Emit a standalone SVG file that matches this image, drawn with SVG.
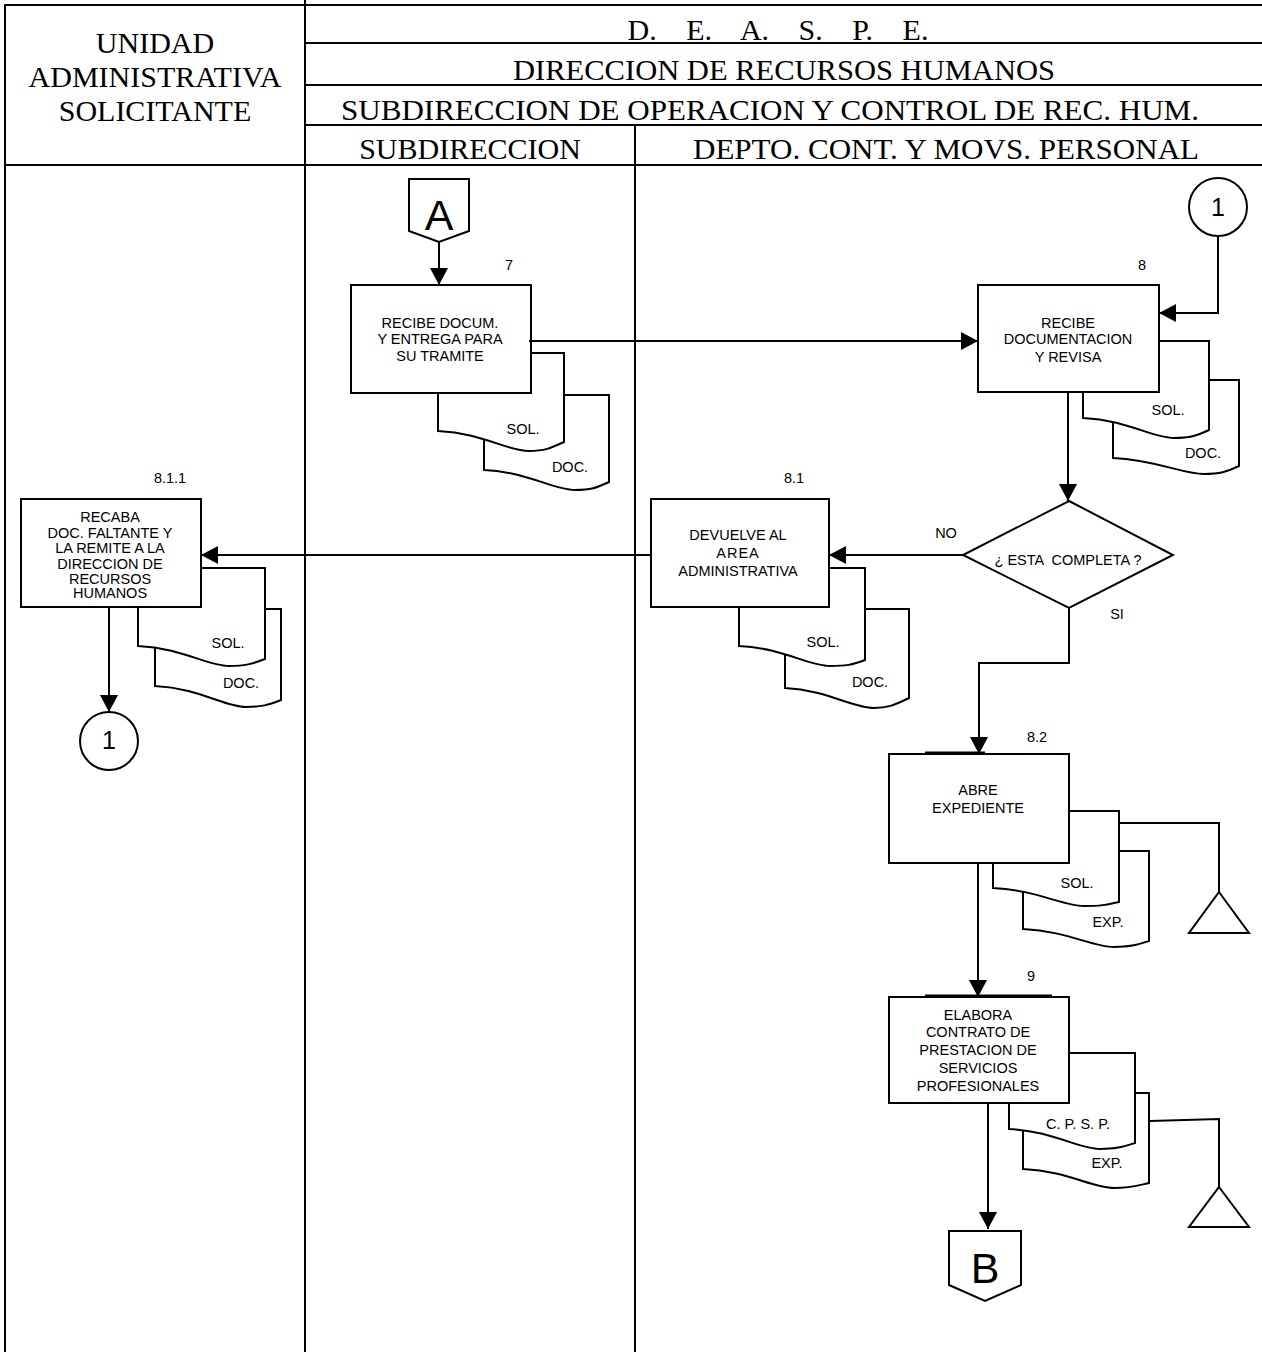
<svg xmlns="http://www.w3.org/2000/svg" width="1262" height="1361" viewBox="0 0 1262 1361">
<style>
.ln{stroke:#000;stroke-width:2;fill:none}
.bx{stroke:#000;stroke-width:2;fill:#fff}
.hd{font-family:"Liberation Serif","Times New Roman",serif;font-size:30px;fill:#000;text-anchor:middle}
.t{font-family:"Liberation Sans",Arial,sans-serif;font-size:14.5px;fill:#000;text-anchor:middle}
.big{font-family:"Liberation Sans",Arial,sans-serif;font-size:43px;fill:#000;text-anchor:middle}
.one{font-family:"Liberation Sans",Arial,sans-serif;font-size:25px;fill:#000;text-anchor:middle}
</style>
<defs>
<marker id="ah" viewBox="0 0 17 18" refX="17" refY="9" markerWidth="17" markerHeight="18" markerUnits="userSpaceOnUse" orient="auto">
<path d="M0,0 L17,9 L0,18 Z" fill="#000"/>
</marker>
</defs>
<rect width="1262" height="1361" fill="#fff"/>
<g id="frame">
<path class="ln" d="M5,1352 V5 H1262 M305,0 V1352 M635,125 V1352 M305,43 H1262 M305,85 H1262 M305,125 H1262 M5,165 H1262"/>
<text class="hd" x="155" y="53">UNIDAD</text>
<text class="hd" x="155" y="87">ADMINISTRATIVA</text>
<text class="hd" x="155" y="121">SOLICITANTE</text>
<text class="hd" x="778" y="40" style="word-spacing:22px">D. E. A. S. P. E.</text>
<text class="hd" x="784" y="80" textLength="542" lengthAdjust="spacingAndGlyphs">DIRECCION DE RECURSOS HUMANOS</text>
<text class="hd" x="770" y="120" textLength="858" lengthAdjust="spacingAndGlyphs">SUBDIRECCION DE OPERACION Y CONTROL DE REC. HUM.</text>
<text class="hd" x="470" y="159">SUBDIRECCION</text>
<text class="hd" x="946" y="159" textLength="506" lengthAdjust="spacingAndGlyphs">DEPTO. CONT. Y MOVS. PERSONAL</text>
</g>
<g id="conA">
<path class="bx" d="M409,179 H469 V231 L439,242 L409,231 Z"/>
<text class="big" x="439" y="230">A</text>
</g>
<g id="step7">
<path class="bx" d="M484,395 H609 V482 C596,488 591,490 575,490 C553,490 528,472 484,470 Z"/>
<path class="bx" d="M438,353 H564 V442 C551,448 545,451 529,451 C507,451 482,433 438,431 Z"/>
<rect class="bx" x="351" y="285" width="180" height="108"/>
<text class="t" x="509" y="270">7</text>
<text class="t" x="440" y="328">RECIBE DOCUM.</text>
<text class="t" x="440" y="344">Y ENTREGA PARA</text>
<text class="t" x="440" y="361">SU TRAMITE</text>
<text class="t" x="523" y="434">SOL.</text>
<text class="t" x="570" y="472">DOC.</text>
</g>
<g id="con1top">
<circle class="bx" cx="1218" cy="207" r="29"/>
<text class="one" x="1218" y="216">1</text>
</g>
<g id="step8">
<path class="bx" d="M1113,380 H1239 V466 C1226,472 1220,474 1204,474 C1182,474 1157,460 1113,458 Z"/>
<path class="bx" d="M1083,341 H1209 V430 C1196,436 1190,438 1174,438 C1152,438 1127,420 1083,418 Z"/>
<rect class="bx" x="978" y="285" width="181" height="107"/>
<text class="t" x="1142" y="270">8</text>
<text class="t" x="1068" y="328">RECIBE</text>
<text class="t" x="1068" y="344">DOCUMENTACION</text>
<text class="t" x="1068" y="362">Y REVISA</text>
<text class="t" x="1168" y="415">SOL.</text>
<text class="t" x="1203" y="458">DOC.</text>
</g>
<g id="decision">
<path class="bx" d="M1069,501 L1173,555 L1069,608 L963,555 Z"/>
<text class="t" x="1068" y="565" style="white-space:pre">¿ ESTA  COMPLETA ?</text>
<text class="t" x="946" y="538">NO</text>
<text class="t" x="1117" y="619">SI</text>
</g>
<g id="step8_1">
<path class="bx" d="M785,609 H909 V698 C896,704 890,708 874,708 C852,708 827,690 785,688 Z"/>
<path class="bx" d="M739,568 H865 V660 C852,665 846,666 830,666 C808,666 783,648 739,646 Z"/>
<rect class="bx" x="651" y="499" width="178" height="108"/>
<text class="t" x="794" y="483">8.1</text>
<text class="t" x="738" y="540">DEVUELVE AL</text>
<text class="t" x="738" y="558" style="letter-spacing:1px">AREA</text>
<text class="t" x="738" y="576">ADMINISTRATIVA</text>
<text class="t" x="823" y="647">SOL.</text>
<text class="t" x="870" y="687">DOC.</text>
</g>
<g id="step8_1_1">
<path class="bx" d="M155,609 H281 V700 C268,705 262,707 246,707 C224,707 199,688 155,686 Z"/>
<path class="bx" d="M138,568 H265 V659 C252,664 245,666 229,666 C207,666 182,648 138,646 Z"/>
<rect class="bx" x="21" y="499" width="180" height="108"/>
<text class="t" x="170" y="483">8.1.1</text>
<text class="t" x="110" y="522">RECABA</text>
<text class="t" x="110" y="538">DOC. FALTANTE Y</text>
<text class="t" x="110" y="553">LA REMITE A LA</text>
<text class="t" x="110" y="569">DIRECCION DE</text>
<text class="t" x="110" y="584">RECURSOS</text>
<text class="t" x="110" y="598">HUMANOS</text>
<text class="t" x="228" y="648">SOL.</text>
<text class="t" x="241" y="688">DOC.</text>
</g>
<g id="con1bottom">
<circle class="bx" cx="109" cy="741" r="29"/>
<text class="one" x="109" y="749">1</text>
</g>
<g id="step8_2">
<path class="bx" d="M1023,851 H1149 V941 C1136,945 1130,947 1114,947 C1092,947 1067,931 1023,929 Z"/>
<path class="bx" d="M993,811 H1119 V902 C1106,905 1100,906 1084,906 C1062,906 1037,890 993,888 Z"/>
<rect class="bx" x="889" y="754" width="180" height="109"/>
<path class="ln" d="M925,752.5 H985"/>
<text class="t" x="1037" y="742">8.2</text>
<text class="t" x="978" y="795">ABRE</text>
<text class="t" x="978" y="813">EXPEDIENTE</text>
<text class="t" x="1077" y="888">SOL.</text>
<text class="t" x="1108" y="927">EXP.</text>
</g>
<g id="archive1">
<path class="bx" d="M1219,892 L1249,933 L1189,933 Z"/>
</g>
<g id="step9">
<path class="bx" d="M1023,1093 H1149 V1183 C1136,1186 1130,1188 1114,1188 C1092,1188 1067,1171 1023,1169 Z"/>
<path class="bx" d="M1009,1053 H1135 V1143 C1122,1147 1116,1149 1100,1149 C1078,1149 1053,1131 1009,1129 Z"/>
<rect class="bx" x="889" y="997" width="180" height="106"/>
<path class="ln" d="M925,995.5 H1052"/>
<text class="t" x="1031" y="981">9</text>
<text class="t" x="978" y="1020">ELABORA</text>
<text class="t" x="978" y="1037">CONTRATO DE</text>
<text class="t" x="978" y="1055">PRESTACION DE</text>
<text class="t" x="978" y="1073">SERVICIOS</text>
<text class="t" x="978" y="1091">PROFESIONALES</text>
<text class="t" x="1078" y="1129">C. P. S. P.</text>
<text class="t" x="1107" y="1168">EXP.</text>
</g>
<g id="archive2">
<path class="bx" d="M1219,1187 L1249,1227 L1189,1227 Z"/>
</g>
<g id="conB">
<path class="bx" d="M949,1231 H1021 V1285 L985,1301 L949,1285 Z"/>
<text class="big" x="985" y="1283">B</text>
</g>
<g id="connectors">
<path class="ln" d="M439,242 V285" marker-end="url(#ah)"/>
<path class="ln" d="M529,341 H978" marker-end="url(#ah)"/>
<path class="ln" d="M1218,236 V313 H1159" marker-end="url(#ah)"/>
<path class="ln" d="M1068,392 V501" marker-end="url(#ah)"/>
<path class="ln" d="M963,555 H829" marker-end="url(#ah)"/>
<path class="ln" d="M651,555 H201" marker-end="url(#ah)"/>
<path class="ln" d="M109,607 V712" marker-end="url(#ah)"/>
<path class="ln" d="M1069,608 V663 H979 V754" marker-end="url(#ah)"/>
<path class="ln" d="M978,863 V997" marker-end="url(#ah)"/>
<path class="ln" d="M988,1103 V1229" marker-end="url(#ah)"/>
<path class="ln" d="M1119,823 H1219 V892"/>
<path class="ln" d="M1150,1121 L1219,1119 V1187"/>
</g>
</svg>
